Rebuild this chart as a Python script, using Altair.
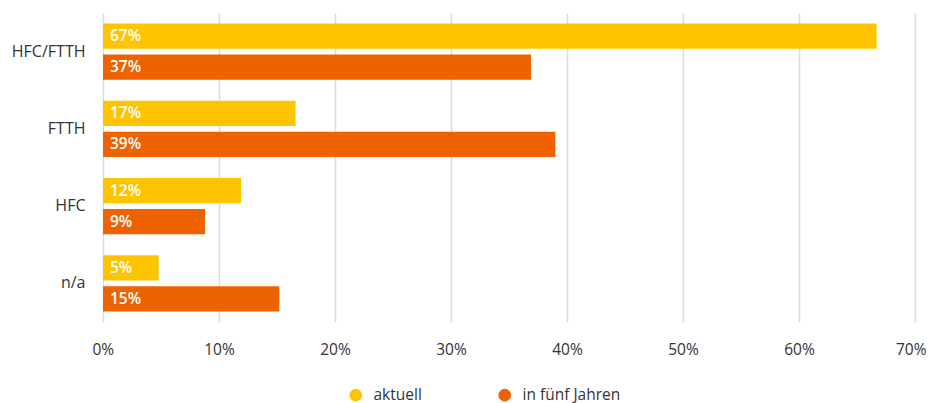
import altair as alt
import pandas as pd

categories = ["HFC/FTTH", "FTTH", "HFC", "n/a"]
series = ["aktuell", "in fünf Jahren"]
aktuell = [66.7, 16.6, 11.9, 4.8]
in_fuenf = [36.9, 39.0, 8.8, 15.2]
colors = ["#FFC400", "#EE6300"]

rows = []
for c, a, f in zip(categories, aktuell, in_fuenf):
    rows.append({"cat": c, "series": series[0], "value": a, "label": f"{round(a)}%"})
    rows.append({"cat": c, "series": series[1], "value": f, "label": f"{round(f)}%"})
df = pd.DataFrame(rows)

FONT = "Open Sans"
FS = 15.5

y = alt.Y("cat:N", sort=categories, title=None,
          scale=alt.Scale(paddingInner=0.275, paddingOuter=0.1375),
          axis=alt.Axis(domain=False, ticks=False, labelPadding=18, labelFontSize=16,
                        labelColor="#333333", labelFont=FONT, grid=False))
yoff = alt.YOffset("series:N", sort=series, scale=alt.Scale(paddingInner=0.19, paddingOuter=0))

bars = alt.Chart(df).mark_bar(cornerRadius=0).encode(
    x=alt.X("value:Q", title=None,
            scale=alt.Scale(domain=[0, 70], nice=False),
            axis=alt.Axis(values=[0, 10, 20, 30, 40, 50, 60, 70], labelExpr="datum.value + '%'",
                          domain=False, ticks=False, labelPadding=20, labelFontSize=FS,
                          labelFlush=True, labelFlushOffset=11, labelOverlap=False,
                          labelColor="#333333", labelFont=FONT, grid=True,
                          gridColor="#dcdcdc", gridWidth=1.5)),
    y=y,
    yOffset=yoff,
    color=alt.Color("series:N", sort=series, title=None,
                    scale=alt.Scale(domain=series, range=colors),
                    legend=alt.Legend(orient="none", direction="horizontal",
                                      legendX=245, legendY=374, symbolType="circle",
                                      symbolSize=160, labelFontSize=FS, labelFont=FONT,
                                      labelColor="#333333", columnPadding=75, labelOffset=10)),
)

labels = alt.Chart(df).mark_text(align="left", baseline="middle", dx=7, color="white",
                                 fontSize=FS, fontWeight=600, font=FONT).encode(
    x=alt.datum(0),
    y=alt.Y("cat:N", sort=categories),
    yOffset=alt.YOffset("series:N", sort=series),
    text="label:N",
)

chart = (bars + labels).properties(
    width=812, height=309,
    autosize=alt.AutoSizeParams(type="none"),
    padding={"left": 95, "top": 5, "right": 11, "bottom": 90},
).configure_view(stroke=None)

chart.save("out.html", embed_options={"renderer": "svg", "actions": False})
